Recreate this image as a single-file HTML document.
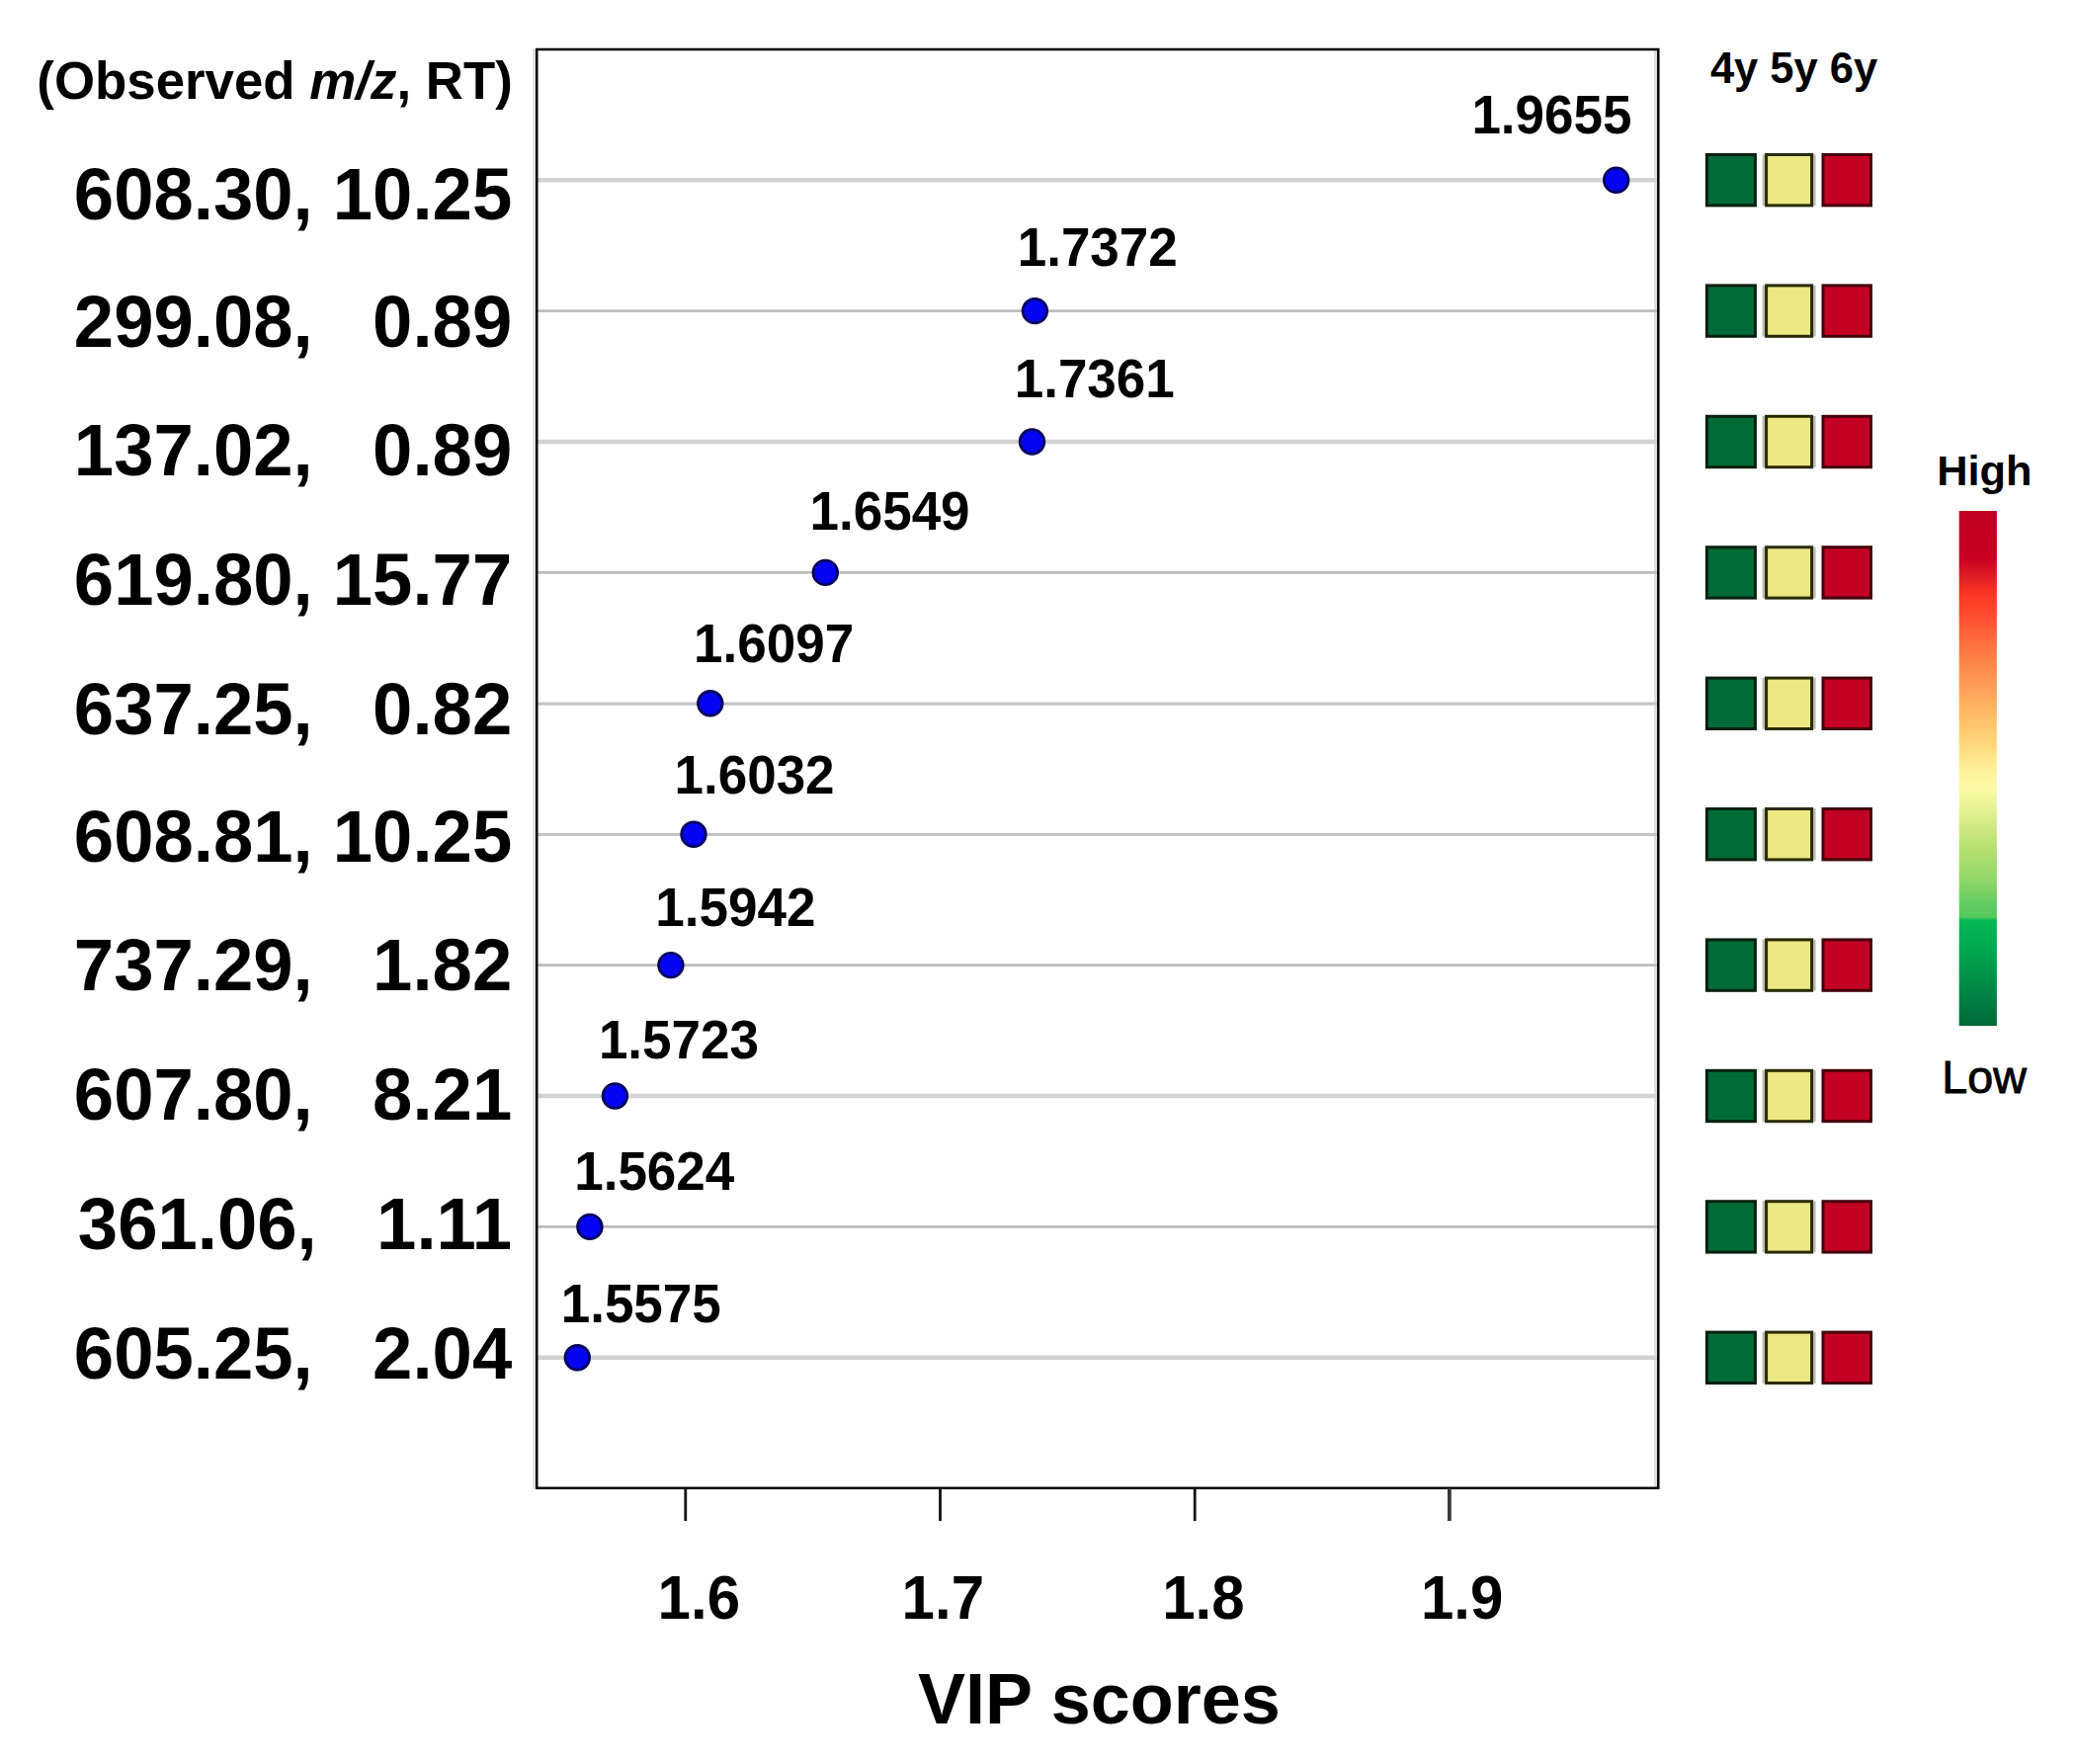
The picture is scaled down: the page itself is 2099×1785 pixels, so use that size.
<!DOCTYPE html>
<html lang="en"><head><meta charset="utf-8"><title>VIP scores</title>
<style>html,body{margin:0;padding:0;background:#fff}svg{display:block}text{font-family:"Liberation Sans",sans-serif;font-weight:bold;fill:#000;white-space:pre}</style></head><body>
<svg width="2099" height="1785" viewBox="0 0 2099 1785">
<rect x="0" y="0" width="2099" height="1785" fill="#fff"/>
<defs><linearGradient id="cb" x1="0" y1="0" x2="0" y2="1">
<stop offset="0.0000" stop-color="#c00024"/>
<stop offset="0.0921" stop-color="#c80022"/>
<stop offset="0.1305" stop-color="#e02024"/>
<stop offset="0.1593" stop-color="#fa3424"/>
<stop offset="0.2073" stop-color="#ff5030"/>
<stop offset="0.2745" stop-color="#ff7a44"/>
<stop offset="0.3321" stop-color="#ff9a54"/>
<stop offset="0.3896" stop-color="#ffb864"/>
<stop offset="0.4472" stop-color="#ffd478"/>
<stop offset="0.4952" stop-color="#ffec94"/>
<stop offset="0.5336" stop-color="#fffaa8"/>
<stop offset="0.5528" stop-color="#f6f8a2"/>
<stop offset="0.6008" stop-color="#d8ec88"/>
<stop offset="0.6583" stop-color="#b4e070"/>
<stop offset="0.7159" stop-color="#90d868"/>
<stop offset="0.7639" stop-color="#62cc60"/>
<stop offset="0.7889" stop-color="#56c85e"/>
<stop offset="0.7946" stop-color="#08b856"/>
<stop offset="0.8503" stop-color="#00a850"/>
<stop offset="0.9079" stop-color="#009048"/>
<stop offset="0.9655" stop-color="#007840"/>
<stop offset="1.0000" stop-color="#006837"/>
</linearGradient></defs>
<text xml:space="preserve" transform="translate(37.3,99.8) scale(1,1.015)" font-size="52.5px" textLength="481.5" lengthAdjust="spacingAndGlyphs">(Observed <tspan font-style="italic">m/z</tspan>, RT)</text>
<text xml:space="preserve" transform="translate(518.2,222.4) scale(1,1.035)" font-size="72.5px" text-anchor="end">608.30, 10.25</text>
<text xml:space="preserve" transform="translate(518.2,350.9) scale(1,1.035)" font-size="72.5px" text-anchor="end">299.08,   0.89</text>
<text xml:space="preserve" transform="translate(518.2,481.1) scale(1,1.035)" font-size="72.5px" text-anchor="end">137.02,   0.89</text>
<text xml:space="preserve" transform="translate(518.2,612.2) scale(1,1.035)" font-size="72.5px" text-anchor="end">619.80, 15.77</text>
<text xml:space="preserve" transform="translate(518.2,743.0) scale(1,1.035)" font-size="72.5px" text-anchor="end">637.25,   0.82</text>
<text xml:space="preserve" transform="translate(518.2,872.0) scale(1,1.035)" font-size="72.5px" text-anchor="end">608.81, 10.25</text>
<text xml:space="preserve" transform="translate(518.2,1002.2) scale(1,1.035)" font-size="72.5px" text-anchor="end">737.29,   1.82</text>
<text xml:space="preserve" transform="translate(518.2,1133.3) scale(1,1.035)" font-size="72.5px" text-anchor="end">607.80,   8.21</text>
<text xml:space="preserve" transform="translate(518.2,1264.4) scale(1,1.035)" font-size="72.5px" text-anchor="end">361.06,   1.11</text>
<text xml:space="preserve" transform="translate(518.2,1394.6) scale(1,1.035)" font-size="72.5px" text-anchor="end">605.25,   2.04</text>
<rect x="539.3" y="49" width="2.8" height="1458" fill="#dedede"/>
<rect x="1674" y="51" width="3.2" height="1454" fill="#dedede"/>
<line x1="544" y1="182.2" x2="1677" y2="182.2" stroke="#d2d2d2" stroke-width="4.6"/>
<line x1="544" y1="314.6" x2="1677" y2="314.6" stroke="#bcbcbc" stroke-width="2.6"/>
<line x1="544" y1="447.0" x2="1677" y2="447.0" stroke="#d2d2d2" stroke-width="4.6"/>
<line x1="544" y1="579.4" x2="1677" y2="579.4" stroke="#bcbcbc" stroke-width="2.6"/>
<line x1="544" y1="712.1" x2="1677" y2="712.1" stroke="#c4c4c4" stroke-width="3.2"/>
<line x1="544" y1="844.5" x2="1677" y2="844.5" stroke="#c4c4c4" stroke-width="3.2"/>
<line x1="544" y1="976.6" x2="1677" y2="976.6" stroke="#bcbcbc" stroke-width="2.6"/>
<line x1="544" y1="1109.0" x2="1677" y2="1109.0" stroke="#d2d2d2" stroke-width="4.6"/>
<line x1="544" y1="1241.4" x2="1677" y2="1241.4" stroke="#bcbcbc" stroke-width="2.6"/>
<line x1="544" y1="1373.8" x2="1677" y2="1373.8" stroke="#d2d2d2" stroke-width="4.6"/>
<rect x="543.25" y="50" width="1135.05" height="1455.8" fill="none" stroke="#000" stroke-width="2.5"/>
<line x1="693.8" y1="1506" x2="693.8" y2="1539" stroke="#111" stroke-width="2.8"/>
<line x1="951.5" y1="1506" x2="951.5" y2="1539" stroke="#111" stroke-width="2.8"/>
<line x1="1209.2" y1="1506" x2="1209.2" y2="1539" stroke="#111" stroke-width="2.8"/>
<line x1="1466.9" y1="1506" x2="1466.9" y2="1539" stroke="#383838" stroke-width="3.8"/>
<text xml:space="preserve" transform="translate(665.6,1638.0) scale(1,1.04)" font-size="60px">1.6</text>
<text xml:space="preserve" transform="translate(912.6,1638.0) scale(1,1.04)" font-size="60px">1.7</text>
<text xml:space="preserve" transform="translate(1176.2,1638.0) scale(1,1.04)" font-size="60px">1.8</text>
<text xml:space="preserve" transform="translate(1438.0,1638.0) scale(1,1.04)" font-size="60px">1.9</text>
<circle cx="1635.7" cy="182.2" r="12.3" fill="#0404f2" stroke="#00005c" stroke-width="2.8"/>
<text xml:space="preserve" transform="translate(1489.4,134.8) scale(1,1.04)" font-size="53px">1.9655</text>
<circle cx="1047.4" cy="314.6" r="12.3" fill="#0404f2" stroke="#00005c" stroke-width="2.8"/>
<text xml:space="preserve" transform="translate(1029.7,268.5) scale(1,1.04)" font-size="53px">1.7372</text>
<circle cx="1044.5" cy="447.0" r="12.3" fill="#0404f2" stroke="#00005c" stroke-width="2.8"/>
<text xml:space="preserve" transform="translate(1026.7,402.2) scale(1,1.04)" font-size="53px">1.7361</text>
<circle cx="835.3" cy="579.4" r="12.3" fill="#0404f2" stroke="#00005c" stroke-width="2.8"/>
<text xml:space="preserve" transform="translate(819.5,535.9) scale(1,1.04)" font-size="53px">1.6549</text>
<circle cx="718.8" cy="711.8" r="12.3" fill="#0404f2" stroke="#00005c" stroke-width="2.8"/>
<text xml:space="preserve" transform="translate(702.1,669.6) scale(1,1.04)" font-size="53px">1.6097</text>
<circle cx="702.0" cy="844.2" r="12.3" fill="#0404f2" stroke="#00005c" stroke-width="2.8"/>
<text xml:space="preserve" transform="translate(682.5,803.3) scale(1,1.04)" font-size="53px">1.6032</text>
<circle cx="678.9" cy="976.6" r="12.3" fill="#0404f2" stroke="#00005c" stroke-width="2.8"/>
<text xml:space="preserve" transform="translate(663.3,937.0) scale(1,1.04)" font-size="53px">1.5942</text>
<circle cx="622.4" cy="1109.0" r="12.3" fill="#0404f2" stroke="#00005c" stroke-width="2.8"/>
<text xml:space="preserve" transform="translate(605.9,1070.7) scale(1,1.04)" font-size="53px">1.5723</text>
<circle cx="596.9" cy="1241.4" r="12.3" fill="#0404f2" stroke="#00005c" stroke-width="2.8"/>
<text xml:space="preserve" transform="translate(581.2,1204.4) scale(1,1.04)" font-size="53px">1.5624</text>
<circle cx="584.3" cy="1373.8" r="12.3" fill="#0404f2" stroke="#00005c" stroke-width="2.8"/>
<text xml:space="preserve" transform="translate(567.7,1338.1) scale(1,1.04)" font-size="53px">1.5575</text>
<rect x="1727.4" y="156.5" width="49" height="51.4" fill="#006b36" stroke="#06200f" stroke-width="3"/>
<rect x="1783.6" y="156.2" width="54" height="52" fill="#6a6a58" opacity="0.45"/>
<rect x="1787.6" y="156.5" width="46" height="51.4" fill="#ece883" stroke="#2a2a00" stroke-width="3"/>
<rect x="1845" y="156.5" width="48.5" height="51.4" fill="#c40024" stroke="#43040c" stroke-width="3"/>
<rect x="1727.4" y="288.9" width="49" height="51.4" fill="#006b36" stroke="#06200f" stroke-width="3"/>
<rect x="1783.6" y="288.6" width="54" height="52" fill="#6a6a58" opacity="0.45"/>
<rect x="1787.6" y="288.9" width="46" height="51.4" fill="#ece883" stroke="#2a2a00" stroke-width="3"/>
<rect x="1845" y="288.9" width="48.5" height="51.4" fill="#c40024" stroke="#43040c" stroke-width="3"/>
<rect x="1727.4" y="421.3" width="49" height="51.4" fill="#006b36" stroke="#06200f" stroke-width="3"/>
<rect x="1783.6" y="421.0" width="54" height="52" fill="#6a6a58" opacity="0.45"/>
<rect x="1787.6" y="421.3" width="46" height="51.4" fill="#ece883" stroke="#2a2a00" stroke-width="3"/>
<rect x="1845" y="421.3" width="48.5" height="51.4" fill="#c40024" stroke="#43040c" stroke-width="3"/>
<rect x="1727.4" y="553.7" width="49" height="51.4" fill="#006b36" stroke="#06200f" stroke-width="3"/>
<rect x="1783.6" y="553.4" width="54" height="52" fill="#6a6a58" opacity="0.45"/>
<rect x="1787.6" y="553.7" width="46" height="51.4" fill="#ece883" stroke="#2a2a00" stroke-width="3"/>
<rect x="1845" y="553.7" width="48.5" height="51.4" fill="#c40024" stroke="#43040c" stroke-width="3"/>
<rect x="1727.4" y="686.1" width="49" height="51.4" fill="#006b36" stroke="#06200f" stroke-width="3"/>
<rect x="1783.6" y="685.8" width="54" height="52" fill="#6a6a58" opacity="0.45"/>
<rect x="1787.6" y="686.1" width="46" height="51.4" fill="#ece883" stroke="#2a2a00" stroke-width="3"/>
<rect x="1845" y="686.1" width="48.5" height="51.4" fill="#c40024" stroke="#43040c" stroke-width="3"/>
<rect x="1727.4" y="818.5" width="49" height="51.4" fill="#006b36" stroke="#06200f" stroke-width="3"/>
<rect x="1783.6" y="818.2" width="54" height="52" fill="#6a6a58" opacity="0.45"/>
<rect x="1787.6" y="818.5" width="46" height="51.4" fill="#ece883" stroke="#2a2a00" stroke-width="3"/>
<rect x="1845" y="818.5" width="48.5" height="51.4" fill="#c40024" stroke="#43040c" stroke-width="3"/>
<rect x="1727.4" y="950.9" width="49" height="51.4" fill="#006b36" stroke="#06200f" stroke-width="3"/>
<rect x="1783.6" y="950.6" width="54" height="52" fill="#6a6a58" opacity="0.45"/>
<rect x="1787.6" y="950.9" width="46" height="51.4" fill="#ece883" stroke="#2a2a00" stroke-width="3"/>
<rect x="1845" y="950.9" width="48.5" height="51.4" fill="#c40024" stroke="#43040c" stroke-width="3"/>
<rect x="1727.4" y="1083.3" width="49" height="51.4" fill="#006b36" stroke="#06200f" stroke-width="3"/>
<rect x="1783.6" y="1083.0" width="54" height="52" fill="#6a6a58" opacity="0.45"/>
<rect x="1787.6" y="1083.3" width="46" height="51.4" fill="#ece883" stroke="#2a2a00" stroke-width="3"/>
<rect x="1845" y="1083.3" width="48.5" height="51.4" fill="#c40024" stroke="#43040c" stroke-width="3"/>
<rect x="1727.4" y="1215.7" width="49" height="51.4" fill="#006b36" stroke="#06200f" stroke-width="3"/>
<rect x="1783.6" y="1215.4" width="54" height="52" fill="#6a6a58" opacity="0.45"/>
<rect x="1787.6" y="1215.7" width="46" height="51.4" fill="#ece883" stroke="#2a2a00" stroke-width="3"/>
<rect x="1845" y="1215.7" width="48.5" height="51.4" fill="#c40024" stroke="#43040c" stroke-width="3"/>
<rect x="1727.4" y="1348.1" width="49" height="51.4" fill="#006b36" stroke="#06200f" stroke-width="3"/>
<rect x="1783.6" y="1347.8" width="54" height="52" fill="#6a6a58" opacity="0.45"/>
<rect x="1787.6" y="1348.1" width="46" height="51.4" fill="#ece883" stroke="#2a2a00" stroke-width="3"/>
<rect x="1845" y="1348.1" width="48.5" height="51.4" fill="#c40024" stroke="#43040c" stroke-width="3"/>
<text xml:space="preserve" transform="translate(1730.9,83.8) scale(1,1.03)" font-size="43.5px">4y 5y 6y</text>
<rect x="1982.7" y="517" width="38.2" height="521" fill="url(#cb)"/>
<text xml:space="preserve" transform="translate(1960.2,490.5) scale(1,1.0)" font-size="43.4px">High</text>
<text xml:space="preserve" transform="translate(1965.2,1106.4) scale(1,1.0)" font-size="46.7px" style="font-weight:normal" stroke="#000" stroke-width="0.9">Low</text>
<text xml:space="preserve" transform="translate(929.0,1744.0) scale(1,1.015)" font-size="72px">VIP scores</text>
</svg></body></html>
